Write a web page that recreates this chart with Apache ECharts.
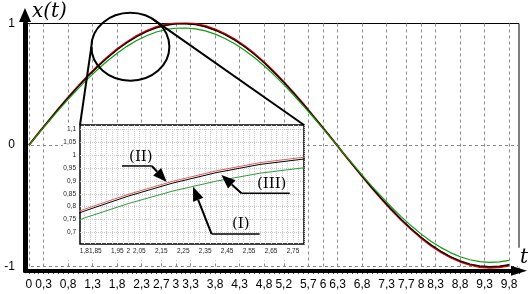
<!DOCTYPE html>
<html><head><meta charset="utf-8">
<script src="https://cdn.jsdelivr.net/npm/echarts@6/dist/echarts.min.js"></script>
<style>html,body{margin:0;padding:0;background:#fff}#c{width:532px;height:294px}</style>
</head><body><div id="c"></div>
<script>
// ---- data ----
const tValues = [0,0.2,0.4,0.6,0.8,1,1.2,1.4,1.6,1.8,2,2.2,2.4,2.6,2.8,3,3.2,3.4,3.6,3.8,4,4.2,4.4,4.6,4.8,5,5.2,5.4,5.6,5.8,6,6.2,6.4,6.6,6.8,7,7.2,7.4,7.6,7.8,8,8.2,8.4,8.6,8.8,9,9.2,9.4,9.6,9.8];
const xBlack = [0,0.100,0.199,0.296,0.389,0.479,0.565,0.644,0.717,0.783,0.841,0.891,0.932,0.964,0.985,0.996,0.997,0.990,0.972,0.944,0.907,0.862,0.808,0.746,0.676,0.598,0.516,0.427,0.335,0.239,0.141,0.042,-0.058,-0.158,-0.256,-0.351,-0.443,-0.530,-0.612,-0.688,-0.757,-0.818,-0.872,-0.916,-0.952,-0.978,-0.994,-1.000,-0.996,-0.983];
const xRed = [0,0.101,0.200,0.298,0.393,0.483,0.569,0.649,0.723,0.790,0.848,0.898,0.939,0.971,0.992,1.002,1.004,0.997,0.980,0.952,0.915,0.869,0.815,0.752,0.681,0.603,0.520,0.431,0.338,0.241,0.142,0.042,-0.059,-0.159,-0.258,-0.354,-0.446,-0.534,-0.617,-0.693,-0.763,-0.825,-0.879,-0.924,-0.959,-0.985,-1.002,-1.008,-1.004,-0.990];
const xGreen = [0,0.096,0.192,0.285,0.376,0.463,0.545,0.622,0.692,0.756,0.812,0.860,0.899,0.930,0.951,0.961,0.963,0.956,0.939,0.913,0.877,0.833,0.780,0.720,0.652,0.578,0.497,0.412,0.323,0.231,0.136,0.040,-0.056,-0.152,-0.247,-0.339,-0.427,-0.511,-0.590,-0.664,-0.730,-0.790,-0.841,-0.884,-0.918,-0.943,-0.959,-0.965,-0.961,-0.948];
const xTickLabels = [0,0.3,0.8,1.3,1.8,2.3,2.7,3,3.3,3.8,4.3,4.8,5.2,5.7,6,6.3,6.8,7.3,7.7,8,8.3,8.8,9.3,9.8];
const yTickLabels = [-1,0,1];
const insetXLabels = [1.8,1.85,1.95,2,2.05,2.15,2.25,2.35,2.45,2.55,2.65,2.75];
const insetYLabels = [0.7,0.75,0.8,0.85,0.9,0.95,1,1.05,1.1];
const curveLabels = ['(I)','(II)','(III)'];

// tick helpers (axis decoration only)
const minorTicks = []; for (let i = 0; i <= 100; i++) minorTicks.push(+(i * 0.1).toFixed(2));
const mainTicks = Array.from(new Set(minorTicks.concat(xTickLabels))).sort((a, b) => a - b);
const insetXGrid = []; for (let i = 0; i <= 40; i++) insetXGrid.push(+(1.8 + i * 0.025).toFixed(3));

const fmt = v => String(Math.round(v * 100) / 100).replace('.', ',');
const pairs = arr => tValues.map((t, i) => [t, arr[i]]);

const chart = echarts.init(document.getElementById('c'), null, {renderer: 'canvas'});
const sansLbl = {color: '#000', fontFamily: 'Liberation Sans, Arial, sans-serif'};
const insetLbl = {fontSize: 6.5, margin: 4, color: '#222', fontFamily: 'Liberation Sans, Arial, sans-serif', showMinLabel: true, showMaxLabel: true};

chart.setOption({
  animation: false,
  backgroundColor: '#fff',
  grid: [
    {left: 25, right: 13, top: 23.5, bottom: 23.3, show: true, borderColor: '#000', borderWidth: 1, backgroundColor: 'transparent', z: 0},
    {left: 80, right: 228, top: 125, bottom: 50, show: true, borderColor: '#000', borderWidth: 1.5, backgroundColor: '#fff', z: 3}
  ],
  xAxis: [
    {type: 'value', gridIndex: 0, min: -0.08, max: 10, position: 'bottom', z: 1,
     axisLine: {show: true, onZero: false, lineStyle: {color: '#000', width: 4}, symbol: ['none', 'triangle'], symbolSize: [10, 16], symbolOffset: [0, 0]},
     axisTick: {show: true, customValues: mainTicks, length: 3, lineStyle: {color: '#000'}},
     axisLabel: Object.assign({customValues: xTickLabels, formatter: fmt, fontSize: 12, margin: 8, showMinLabel: true, showMaxLabel: true}, sansLbl),
     splitLine: {show: false}},
    {type: 'value', gridIndex: 0, min: -0.08, max: 10, position: 'top', z: 1,
     axisLine: {show: false, onZero: false}, axisTick: {show: false, customValues: xTickLabels},
     axisLabel: {show: false},
     splitLine: {show: true, lineStyle: {color: '#8a8a8a', type: [3, 3], width: 1}}},
    {type: 'value', gridIndex: 1, min: 1.78, max: 2.8, position: 'bottom', z: 4,
     axisLine: {show: false, onZero: false}, axisTick: {show: false, customValues: insetXGrid},
     axisLabel: Object.assign({customValues: insetXLabels, formatter: fmt}, insetLbl),
     splitLine: {show: true, lineStyle: {color: '#c8c8c8', type: 'dotted', width: 1}}}
  ],
  yAxis: [
    {type: 'value', gridIndex: 0, min: -1.033, max: 1, z: 1,
     axisLine: {show: true, onZero: false, lineStyle: {color: '#000', width: 5}, symbol: ['none', 'triangle'], symbolSize: [12, 14], symbolOffset: [0, 8.5]},
     axisTick: {show: false, customValues: [-1, 0]},
     axisLabel: Object.assign({customValues: yTickLabels, formatter: fmt, fontSize: 12, margin: 10, showMinLabel: true, showMaxLabel: true}, sansLbl),
     splitLine: {show: true, lineStyle: {color: '#8a8a8a', type: [3, 3], width: 1}}},
    {type: 'value', gridIndex: 1, min: 0.655, max: 1.117, z: 4,
     axisLine: {show: false, onZero: false}, axisTick: {show: false, customValues: insetYLabels},
     axisLabel: Object.assign({customValues: insetYLabels, formatter: fmt}, insetLbl),
     splitLine: {show: true, lineStyle: {color: '#c8c8c8', type: 'dotted', width: 1}}}
  ],
  series: [
    {type: 'line', xAxisIndex: 0, yAxisIndex: 0, data: pairs(xRed), symbol: 'none', lineStyle: {color: '#d40000', width: 2}, z: 2},
    {type: 'line', xAxisIndex: 0, yAxisIndex: 0, data: pairs(xBlack), symbol: 'none', lineStyle: {color: '#000', width: 1.2}, z: 2},
    {type: 'line', xAxisIndex: 0, yAxisIndex: 0, data: pairs(xGreen), symbol: 'none', lineStyle: {color: '#109a10', width: 1.2}, z: 2},
    {type: 'line', xAxisIndex: 2, yAxisIndex: 1, data: pairs(xRed), symbol: 'none', lineStyle: {color: '#e06060', width: 1}, z: 5},
    {type: 'line', xAxisIndex: 2, yAxisIndex: 1, data: pairs(xBlack), symbol: 'none', lineStyle: {color: '#000', width: 1}, z: 5},
    {type: 'line', xAxisIndex: 2, yAxisIndex: 1, data: pairs(xGreen), symbol: 'none', lineStyle: {color: '#2e9a3a', width: 1}, z: 5}
  ]
});

// ---- annotations placed through the chart's own coordinate conversion ----
const P = (t, v) => chart.convertToPixel({xAxisIndex: 0, yAxisIndex: 0}, [t, v]);
const Q = (t, v) => chart.convertToPixel({xAxisIndex: 2, yAxisIndex: 1}, [t, v]);
const blk = {stroke: '#000', lineWidth: 2, fill: 'none'};
function line(a, b, w) { return {type: 'line', z: 20, silent: true, shape: {x1: a[0], y1: a[1], x2: b[0], y2: b[1]}, style: {stroke: '#000', lineWidth: w}}; }
function arrow(s, p) {
  const dx = p[0] - s[0], dy = p[1] - s[1], L = Math.hypot(dx, dy), ux = dx / L, uy = dy / L;
  const hl = 14, hw = 5.5, b = [p[0] - ux * hl, p[1] - uy * hl];
  return [line(s, b, 2), {type: 'polygon', z: 20, silent: true, shape: {points: [p, [b[0] - uy * hw, b[1] + ux * hw], [b[0] + uy * hw, b[1] - ux * hw]]}, style: {fill: '#000'}}];
}
function txt(p, s, size, italic, extra) {
  return {type: 'text', z: 21, silent: true, style: Object.assign({x: p[0], y: p[1], text: s, fontFamily: 'DejaVu Serif, serif', fontSize: size, fontStyle: italic ? 'italic' : 'normal', fill: '#000', align: 'center', verticalAlign: 'middle'}, extra || {})};
}

const c = P(2.07, 0.809), rx = 39, ry = 34;
const tl = Q(1.78, 1.117), br = Q(2.8, 0.655), tr = Q(2.8, 1.117);
const axisEnd = P(10, -1.033), yTop = P(-0.08, 1);
const g = [];
// white panel behind the inset (its labels area)
g.push({type: 'rect', z: 2.5, silent: true, shape: {x: tl[0] - 17, y: tl[1] - 1, width: br[0] - tl[0] + 19, height: br[1] - tl[1] + 17}, style: {fill: '#fff'}});
g.push({type: 'ellipse', z: 20, silent: true, shape: {cx: c[0], cy: c[1], rx: rx, ry: ry}, style: blk});
g.push(line([c[0] - rx, c[1]], tl, 2));
g.push(line([c[0] + rx * 0.551, c[1] - ry * 0.834], tr, 2));
// curve tags
g.push(txt(Q(2.057, 0.993), curveLabels[1], 15, false));
g.push(line(Q(1.971, 0.958), Q(2.107, 0.958), 1.5));
g.push(...arrow(Q(2.107, 0.958), Q(2.175, 0.896)));
g.push(txt(Q(2.653, 0.888), curveLabels[2], 15, false));
g.push(line(Q(2.515, 0.852), Q(2.735, 0.852), 1.5));
g.push(...arrow(Q(2.515, 0.852), Q(2.424, 0.923)));
g.push(txt(Q(2.512, 0.733), curveLabels[0], 15, false));
g.push(line(Q(2.379, 0.694), Q(2.598, 0.694), 1.5));
g.push(...arrow(Q(2.379, 0.694), Q(2.295, 0.877)));
// axis names
g.push(txt([yTop[0] + 7, 12], 'x(t)', 20, true, {align: 'left'}));
g.push(txt([axisEnd[0] + 5, axisEnd[1] - 13], 't', 20, true, {backgroundColor: '#fff', padding: [0, 2]}));
chart.setOption({graphic: g});
</script>
</body></html>
